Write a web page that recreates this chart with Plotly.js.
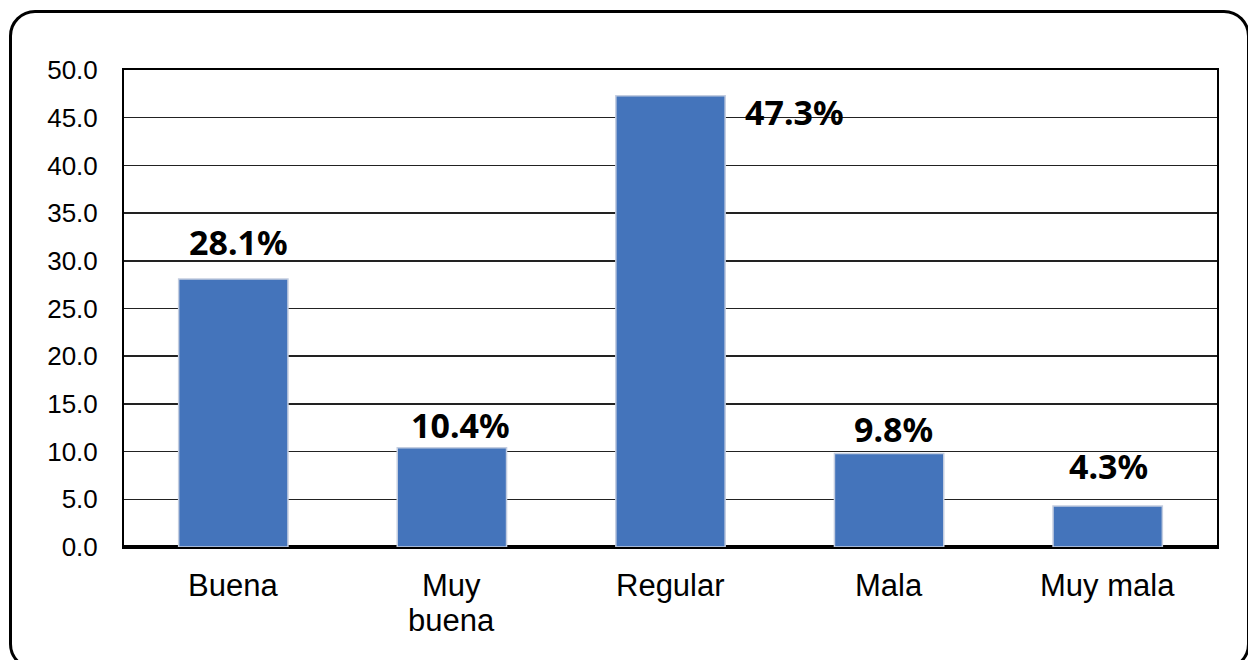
<!DOCTYPE html>
<html>
<head>
<meta charset="utf-8">
<script src="https://cdn.plot.ly/plotly-3.0.1.min.js"></script>
<style>
html,body{margin:0;padding:0;background:#fff;overflow:hidden;}
#wrap{position:relative;width:1248px;height:660px;overflow:hidden;}
#chart{position:absolute;left:0;top:0;width:1248px;height:660px;}
#frame{position:absolute;left:9px;top:10px;width:1235px;height:654px;border:3.5px solid #000;border-radius:26px;pointer-events:none;}
</style>
</head>
<body>
<div id="wrap">
<div id="chart"></div>
<div id="frame"></div>
</div>
<script>
const categories = ["Buena", "Muy buena", "Regular", "Mala", "Muy mala"];
const categoryLines = [["Buena"], ["Muy", "buena"], ["Regular"], ["Mala"], ["Muy mala"]];
const values = [28.1, 10.4, 47.3, 9.8, 4.3];
const valueLabels = ["28.1%", "10.4%", "47.3%", "9.8%", "4.3%"];
const yTickVals = [0, 5, 10, 15, 20, 25, 30, 35, 40, 45, 50];
const yTickText = ["0.0", "5.0", "10.0", "15.0", "20.0", "25.0", "30.0", "35.0", "40.0", "45.0", "50.0"];

// label placement style (pixel offsets relative to the bar top)
const labelStyle = [
  {xshift: 5, yshift: 37, xanchor: "center"},
  {xshift: 9, yshift: 23, xanchor: "center"},
  {xshift: 72, yshift: -16, xanchor: "left"},
  {xshift: 4, yshift: 25, xanchor: "center"},
  {xshift: 1, yshift: 40, xanchor: "center"}
];

const trace = {
  type: "bar",
  x: categories,
  y: values,
  width: 0.5,
  marker: {color: "#4474bb", line: {color: "#c3cde0", width: 1.5}},
  hoverinfo: "skip"
};

const annotations = categories.map((c, i) => ({
  x: c, y: values[i], xref: "x", yref: "y",
  text: valueLabels[i],
  showarrow: false,
  xanchor: labelStyle[i].xanchor,
  yanchor: "middle",
  xshift: labelStyle[i].xshift,
  yshift: labelStyle[i].yshift,
  font: {family: "Noto Sans", size: 34, color: "#000", weight: "bold"}
}));

categories.forEach((c, i) => {
  categoryLines[i].forEach((line, j) => {
    annotations.push({
      x: c, y: 0, xref: "x", yref: "paper",
      text: line, showarrow: false,
      xanchor: "center", yanchor: "middle",
      borderpad: 0,
      yshift: -38 - 35 * j,
      font: {family: "Liberation Sans, Arial, sans-serif", size: 31, color: "#000"}
    });
  });
});

const layout = {
  width: 1248, height: 660,
  margin: {l: 124, r: 31, t: 70, b: 113},
  paper_bgcolor: "rgba(0,0,0,0)",
  plot_bgcolor: "#fff",
  showlegend: false,
  font: {family: "Liberation Sans, Arial, sans-serif", color: "#000"},
  xaxis: {
    type: "category",
    showline: true, linecolor: "#000", linewidth: 2, mirror: true,
    ticks: "", showgrid: false, showticklabels: false
  },
  yaxis: {
    range: [0, 50],
    tickvals: yTickVals, ticktext: yTickText,
    showline: true, linecolor: "#000", linewidth: 2, mirror: true,
    showgrid: true, gridcolor: "#222", gridwidth: 1.5,
    zeroline: true, zerolinecolor: "#000", zerolinewidth: 3.5,
    ticks: "", ticklabelstandoff: 19,
    tickfont: {size: 26, family: "Liberation Sans, Arial, sans-serif"}
  },
  annotations: annotations
};

Plotly.newPlot("chart", [trace], layout, {displayModeBar: false, staticPlot: true});
</script>
</body>
</html>
